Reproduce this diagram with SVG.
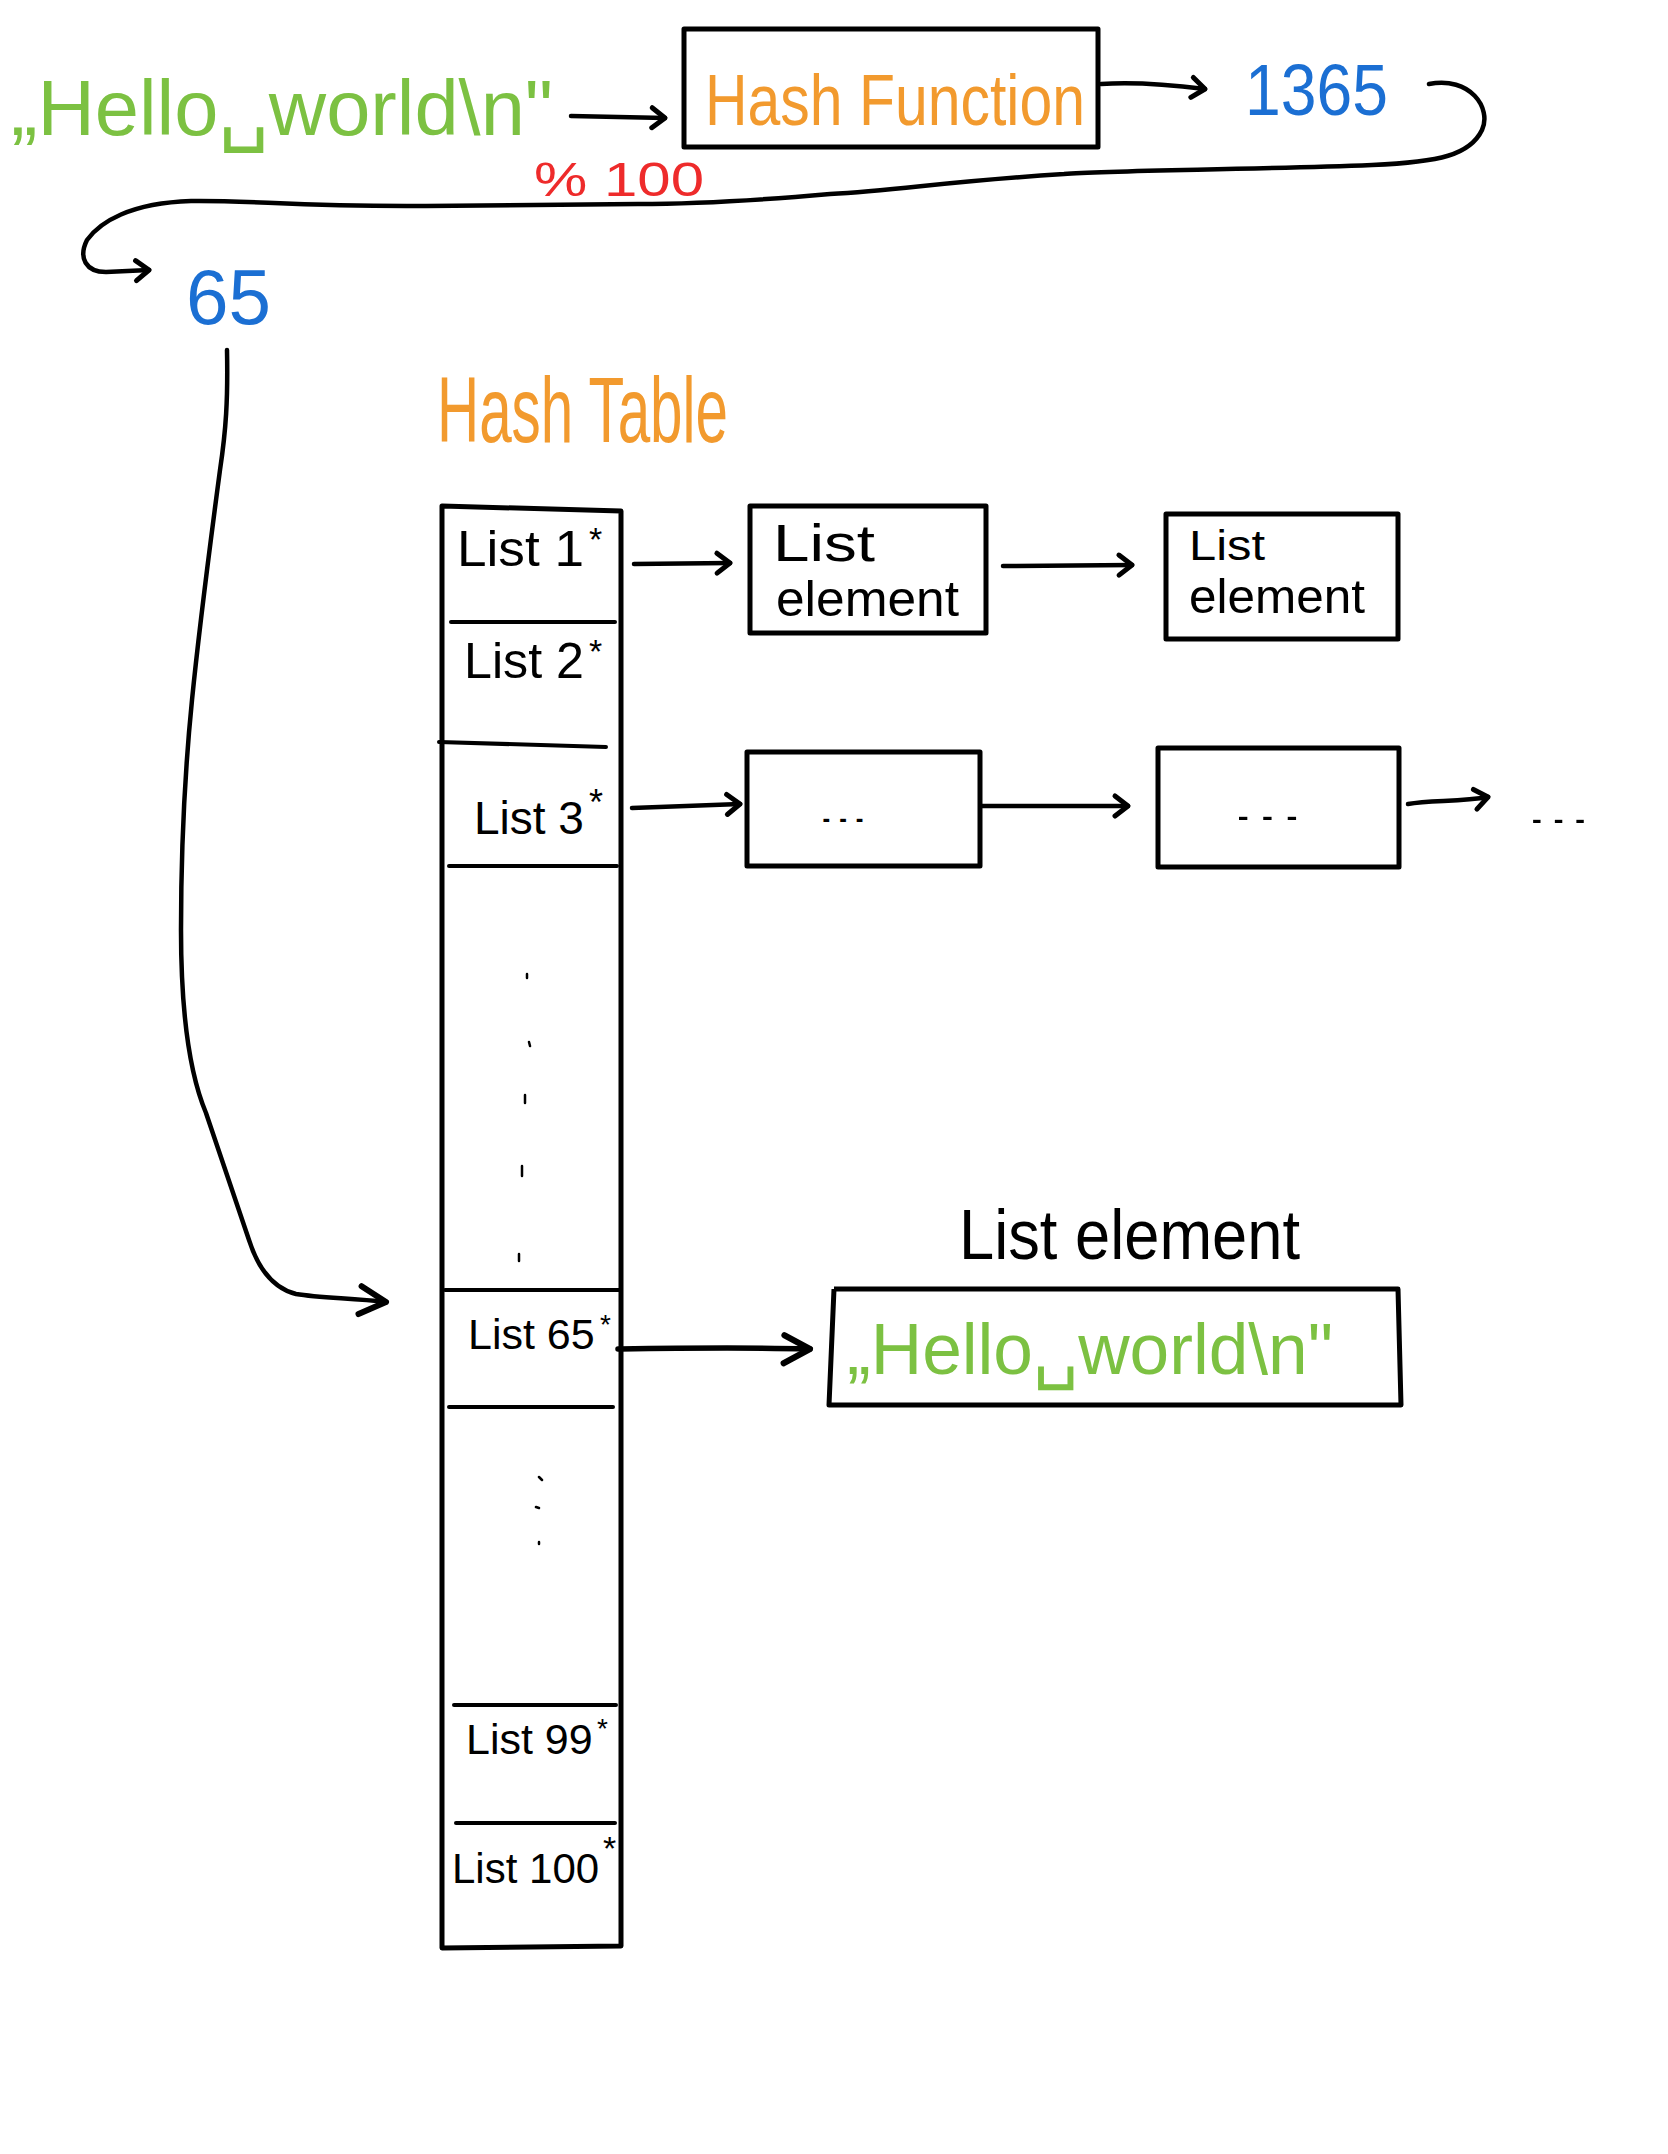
<svg xmlns="http://www.w3.org/2000/svg" width="1668" height="2154" viewBox="0 0 1668 2154">
<style>
.box{fill:none;stroke:#000;stroke-width:5;stroke-linejoin:round}
.sep{fill:none;stroke:#000;stroke-width:4;stroke-linecap:round}
.con{fill:none;stroke:#000;stroke-width:4.5;stroke-linecap:round;stroke-linejoin:round}
.dot{fill:none;stroke:#000;stroke-width:2.5;stroke-linecap:round}
.t{font-family:"Liberation Sans","DejaVu Sans",sans-serif}
.blk{fill:#000}
.grn{fill:#7cc142}
.org{fill:#f29a2e}
.blu{fill:#1b6fd3}
.red{fill:#ee2b2b}
</style>
<defs>
<marker id="ah" markerUnits="userSpaceOnUse" markerWidth="40" markerHeight="40" refX="30" refY="20" orient="auto">
<path d="M17,10 L30,20 L17,30" fill="none" stroke="#000" stroke-width="5" stroke-linecap="round" stroke-linejoin="round"/>
</marker>
<marker id="ahL" markerUnits="userSpaceOnUse" markerWidth="50" markerHeight="50" refX="40" refY="25" orient="auto">
<path d="M14,12 L40,25 L14,40" fill="none" stroke="#000" stroke-width="6" stroke-linecap="round" stroke-linejoin="round"/>
</marker>
</defs>
<rect width="1668" height="2154" fill="#fff"/>

<g id="input-text">
<text class="t grn" x="11" y="135" font-size="78" textLength="542" lengthAdjust="spacingAndGlyphs">„Hello␣world\n"</text>
</g>

<g id="hash-function">
<rect class="box" x="684" y="29" width="414" height="118"/>
<text class="t org" x="705" y="125" font-size="72" textLength="380" lengthAdjust="spacingAndGlyphs">Hash Function</text>
</g>

<g id="hash-1365">
<text class="t blu" x="1245" y="115" font-size="72" textLength="143" lengthAdjust="spacingAndGlyphs">1365</text>
</g>

<g id="modulo-label">
<text class="t red" x="534" y="196" font-size="48" textLength="170" lengthAdjust="spacingAndGlyphs">% 100</text>
</g>

<g id="index-65">
<text class="t blu" x="186" y="324" font-size="78" textLength="85" lengthAdjust="spacingAndGlyphs">65</text>
</g>

<g id="hash-table-title">
<text class="t org" x="437" y="442" font-size="92" textLength="291" lengthAdjust="spacingAndGlyphs">Hash Table</text>
</g>

<g id="hash-table">
<path class="box" d="M442,506 L621,511 L621,1946 L442,1948 Z"/>
<path class="sep" d="M451,622 L615,622"/>
<path class="sep" d="M439,742 L606,747"/>
<path class="sep" d="M449,866 L617,866"/>
<path class="sep" d="M445,1290 L621,1290"/>
<path class="sep" d="M449,1407 L613,1407"/>
<path class="sep" d="M454,1705 L616,1705"/>
<path class="sep" d="M456,1823 L615,1823"/>
<text class="t blk" x="457" y="566" font-size="50" textLength="127" lengthAdjust="spacingAndGlyphs">List 1</text>
<text class="t blk" x="589" y="551" font-size="34">*</text>
<text class="t blk" x="464" y="678" font-size="50" textLength="120" lengthAdjust="spacingAndGlyphs">List 2</text>
<text class="t blk" x="589" y="663" font-size="34">*</text>
<text class="t blk" x="474" y="834" font-size="46">List 3</text>
<text class="t blk" x="589" y="815" font-size="36">*</text>
<text class="t blk" x="468" y="1349" font-size="43">List 65</text>
<text class="t blk" x="600" y="1334" font-size="28">*</text>
<text class="t blk" x="466" y="1754" font-size="43">List 99</text>
<text class="t blk" x="597" y="1738" font-size="28">*</text>
<text class="t blk" x="452" y="1883" font-size="42">List 100</text>
<text class="t blk" x="603" y="1860" font-size="34">*</text>
<path class="dot" d="M527,974 L527,978 M529,1042 L530,1046 M525,1095 L525,1103 M522,1166 L522,1176 M519,1254 L519,1261 M539,1477 L542,1480 M536,1507 L539,1508 M539,1542 L539,1544"/>
</g>

<g id="list-element-1a">
<rect class="box" x="750" y="506" width="236" height="127"/>
<text class="t blk" x="773" y="561" font-size="52" textLength="102" lengthAdjust="spacingAndGlyphs">List</text>
<text class="t blk" x="776" y="616" font-size="50" textLength="183" lengthAdjust="spacingAndGlyphs">element</text>
</g>

<g id="list-element-1b">
<rect class="box" x="1166" y="514" width="232" height="125"/>
<text class="t blk" x="1189" y="560" font-size="42" textLength="76" lengthAdjust="spacingAndGlyphs">List</text>
<text class="t blk" x="1189" y="613" font-size="48" textLength="176" lengthAdjust="spacingAndGlyphs">element</text>
</g>

<g id="list-element-3a">
<rect class="box" x="747" y="752" width="233" height="114"/>
<text class="t blk" x="818" y="822" font-size="30" textLength="50" lengthAdjust="spacingAndGlyphs">...</text>
</g>

<g id="list-element-3b">
<rect class="box" x="1158" y="748" width="241" height="119"/>
<text class="t blk" x="1231" y="820" font-size="30" textLength="73" lengthAdjust="spacingAndGlyphs">...</text>
</g>

<g id="more-ellipsis">
<text class="t blk" x="1526" y="823" font-size="30" textLength="65" lengthAdjust="spacingAndGlyphs">...</text>
</g>

<g id="list-element-65-title">
<text class="t blk" x="959" y="1259" font-size="70" textLength="341" lengthAdjust="spacingAndGlyphs">List element</text>
</g>

<g id="list-element-65">
<path class="box" d="M834,1289 L1398,1289 L1401,1405 L829,1405 L834,1289 M829,1405 L840,1405"/>
<text class="t grn" x="847" y="1374" font-size="72" textLength="486" lengthAdjust="spacingAndGlyphs">„Hello␣world\n"</text>
</g>

<g id="connectors">
<path class="con" d="M571,116 L665,118" marker-end="url(#ah)"/>
<path class="con" d="M1101,84 C1130,82 1165,84 1205,89" marker-end="url(#ah)"/>
<path class="con" d="M1429,84 C1470,76 1492,108 1482,130 C1470,155 1440,162 1372,165 C1250,170 1110,170 1064,174 C950,181 900,190 830,194 C740,202 680,204 638,204 L426,206 C300,207 250,200 191,201 C130,203 100,222 87,240 C78,258 86,272 106,272 L149,270" marker-end="url(#ah)"/>
<path class="con" d="M227,350 C228,400 226,430 220,470 C212,530 200,620 192,700 C184,780 181,850 181,930 C181,1010 188,1070 206,1113 L249,1240 C258,1268 272,1288 296,1294 C320,1298 350,1298 386,1302" marker-end="url(#ahL)"/>
<path class="con" d="M634,564 L730,563" marker-end="url(#ah)"/>
<path class="con" d="M1003,566 L1132,565" marker-end="url(#ah)"/>
<path class="con" d="M632,808 L740,804" marker-end="url(#ah)"/>
<path class="con" d="M982,806 L1128,806" marker-end="url(#ah)"/>
<path class="con" d="M1408,804 C1430,800 1460,802 1488,797" marker-end="url(#ah)"/>
<path class="con" style="stroke-width:5.5" d="M618,1349 C680,1348 740,1347 810,1349" marker-end="url(#ahL)"/>
</g>
</svg>
